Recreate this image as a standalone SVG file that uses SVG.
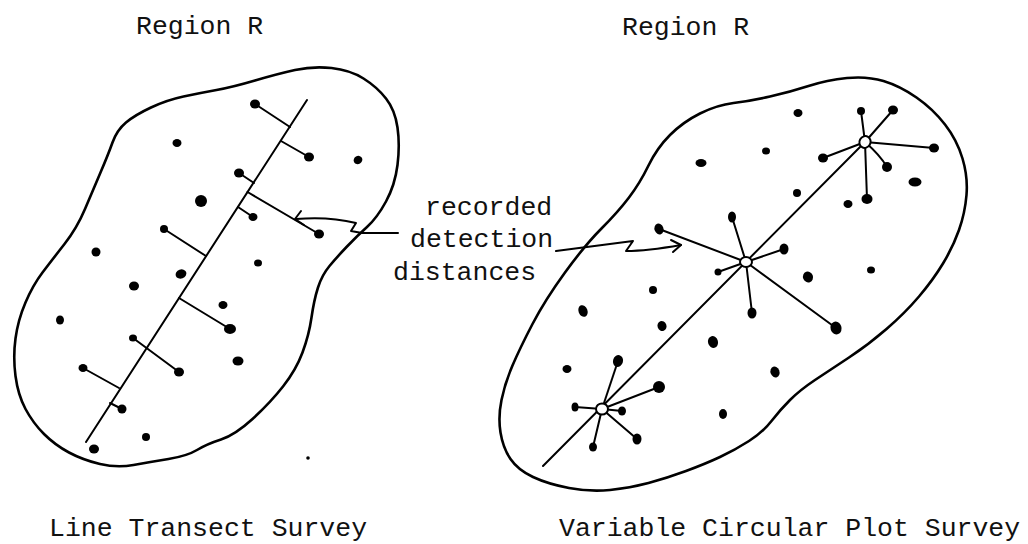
<svg xmlns="http://www.w3.org/2000/svg" width="1028" height="544" viewBox="0 0 1028 544">
<style>
  .bg{fill:#ffffff}
  .outline{fill:none;stroke:#000;stroke-width:2.6;stroke-linejoin:round;stroke-linecap:round}
  .transect{fill:none;stroke:#000;stroke-width:2;stroke-linecap:round}
  .conn{fill:none;stroke:#000;stroke-width:2;stroke-linecap:round;stroke-linejoin:round}
  .dot{fill:#000}
  .station{fill:#fff;stroke:#000;stroke-width:2}
  .lbl{font-family:"Liberation Mono","DejaVu Sans Mono",monospace;font-size:26.5px;fill:#111}
</style>
<rect class="bg" x="0" y="0" width="1028" height="544"/>

<g id="left-region">
  <path class="outline" d="M 126,122.5 Q 135,115 151,107.5 Q 167,100 183.5,96.5 Q 200,93 216.5,90 Q 233,87 255,80.5 Q 277,74 295,70 Q 313,66 331.5,68 Q 350,70 363.5,78.5 Q 377,87 386,98.5 Q 395,110 397.5,127.5 Q 400,145 397.5,165 Q 395,185 386,201.5 Q 377,218 367,227 Q 357,236 347,246.5 Q 337,257 329.5,266 Q 322,275 318,287.5 Q 314,300 311.5,317.5 Q 309,335 302.5,352.5 Q 296,370 283,386.5 Q 270,403 252.5,419 Q 235,435 221,439.5 Q 207,444 197,450 Q 187,456 168.5,459 Q 150,462 133.5,465 Q 117,468 100,464 Q 83,460 69,452.5 Q 55,445 44,434 Q 33,423 25.5,409 Q 18,395 15.5,376 Q 13,357 15.5,338.5 Q 18,320 25.5,302.5 Q 33,285 42.5,272.5 Q 52,260 64.5,244 Q 77,228 85,209 Q 93,190 100.5,172.5 Q 108,155 112.5,142.5 Q 117,130 126,122.5 Z"/>
  <line class="transect" x1="307" y1="100" x2="86" y2="442"/>
</g>

<g id="right-region">
  <path class="outline" d="M 648.5,165.5 Q 657,148 670,135 Q 683,122 700,113.5 Q 717,105 733.5,103 Q 750,101 770,96.5 Q 790,92 808.5,86 Q 827,80 847,78 Q 867,76 883.5,81 Q 900,86 916.5,97.5 Q 933,109 945,124.5 Q 957,140 962.5,158.5 Q 968,177 966.5,195 Q 965,213 959,230 Q 953,247 943,263.5 Q 933,280 919,296.5 Q 905,313 886.5,329 Q 868,345 849,357.5 Q 830,370 815,380 Q 800,390 790,400 Q 780,410 771.5,421 Q 763,432 749,441 Q 735,450 720,457 Q 705,464 686,471 Q 667,478 648.5,483 Q 630,488 610,490 Q 590,492 569,488 Q 548,484 533,477 Q 518,470 510.5,459 Q 503,448 500.5,432.5 Q 498,417 501.5,400 Q 505,383 512.5,365.5 Q 520,348 532.5,324 Q 545,300 565,272.5 Q 585,245 601.5,228.5 Q 618,212 629,197.5 Q 640,183 648.5,165.5 Z"/>
  <line class="transect" x1="543" y1="466" x2="865" y2="142"/>
</g>

<g id="connectors">
  <!-- line transect perpendicular distances -->
  <line class="conn" x1="255" y1="104" x2="290" y2="127"/>
  <line class="conn" x1="309" y1="157" x2="281" y2="141"/>
  <line class="conn" x1="239" y1="173" x2="254" y2="183"/>
  <line class="conn" x1="253" y1="217" x2="238" y2="207"/>
  <line class="conn" x1="319" y1="234" x2="247.5" y2="192"/>
  <line class="conn" x1="164" y1="229" x2="206" y2="256"/>
  <line class="conn" x1="230" y1="329" x2="179" y2="298"/>
  <line class="conn" x1="133" y1="338" x2="179" y2="372"/>
  <line class="conn" x1="83" y1="368" x2="119" y2="388"/>
  <line class="conn" x1="122" y1="409" x2="110" y2="403"/>
  <!-- circular plot radial distances: top station -->
  <line class="conn" x1="865" y1="142" x2="861" y2="111"/>
  <line class="conn" x1="865" y1="142" x2="893" y2="110"/>
  <line class="conn" x1="865" y1="142" x2="934" y2="148"/>
  <line class="conn" x1="865" y1="142" x2="823" y2="158"/>
  <path class="conn" d="M 865,142 Q 880,155 887,167"/>
  <line class="conn" x1="865" y1="142" x2="867" y2="199"/>
  <!-- middle station -->
  <line class="conn" x1="746" y1="262" x2="659" y2="229"/>
  <line class="conn" x1="746" y1="262" x2="732" y2="217"/>
  <line class="conn" x1="746" y1="262" x2="784" y2="249"/>
  <line class="conn" x1="746" y1="262" x2="718" y2="272"/>
  <line class="conn" x1="746" y1="262" x2="752" y2="313"/>
  <line class="conn" x1="746" y1="262" x2="836" y2="328"/>
  <!-- bottom station -->
  <line class="conn" x1="602" y1="409" x2="618" y2="361"/>
  <line class="conn" x1="602" y1="409" x2="659" y2="387"/>
  <line class="conn" x1="602" y1="409" x2="575" y2="407"/>
  <line class="conn" x1="602" y1="409" x2="622" y2="411"/>
  <line class="conn" x1="602" y1="409" x2="637" y2="439"/>
  <line class="conn" x1="602" y1="409" x2="593" y2="447"/>
  <!-- label arrows -->
  <path class="conn" d="M 398,233 L 362,233 L 351,231 L 356,223 C 340,219 318,217 296,219"/>
  <path class="conn" d="M 301,211 L 295,219 L 304,225"/>
  <path class="conn" d="M 556,251 L 633,241 L 626,251 C 645,251 664,248 681,245"/>
  <path class="conn" d="M 671,240 L 681,245 L 673,252"/>
</g>

<g id="left-dots">
  <ellipse class="dot" cx="255" cy="104" rx="5" ry="4.5"/>
  <ellipse class="dot" cx="177" cy="143" rx="4.5" ry="4"/>
  <ellipse class="dot" cx="309" cy="157" rx="5" ry="4.5"/>
  <ellipse class="dot" cx="358" cy="160" rx="4.5" ry="4" transform="rotate(-30 358 160)"/>
  <ellipse class="dot" cx="239" cy="173" rx="5" ry="4.5"/>
  <ellipse class="dot" cx="201" cy="201" rx="6" ry="6"/>
  <ellipse class="dot" cx="253" cy="217" rx="4.5" ry="4"/>
  <ellipse class="dot" cx="319" cy="234" rx="5" ry="4.5"/>
  <ellipse class="dot" cx="164" cy="229" rx="4" ry="4"/>
  <ellipse class="dot" cx="96" cy="252" rx="4.5" ry="4.5"/>
  <ellipse class="dot" cx="258" cy="263" rx="4" ry="3.5"/>
  <ellipse class="dot" cx="181" cy="274" rx="5.5" ry="4.5" transform="rotate(-20 181 274)"/>
  <ellipse class="dot" cx="134" cy="286" rx="5" ry="4.5"/>
  <ellipse class="dot" cx="223" cy="305" rx="4.5" ry="4"/>
  <ellipse class="dot" cx="60" cy="320" rx="4" ry="4.5"/>
  <ellipse class="dot" cx="230" cy="329" rx="6" ry="5"/>
  <ellipse class="dot" cx="133" cy="338" rx="4" ry="3.5"/>
  <ellipse class="dot" cx="179" cy="372" rx="5" ry="4.5"/>
  <ellipse class="dot" cx="238" cy="361" rx="5.5" ry="4.5"/>
  <ellipse class="dot" cx="83" cy="368" rx="4.5" ry="4"/>
  <ellipse class="dot" cx="122" cy="409" rx="4.5" ry="4.5"/>
  <ellipse class="dot" cx="146" cy="437" rx="4" ry="4"/>
  <ellipse class="dot" cx="94" cy="449" rx="5" ry="4.5"/>
  <circle class="dot" cx="308" cy="458" r="1.8"/>
</g>

<g id="right-stations">
  <ellipse class="station" cx="865" cy="142" rx="5.5" ry="6" transform="rotate(30 865 142)"/>
  <ellipse class="station" cx="746" cy="262" rx="6" ry="5"/>
  <ellipse class="station" cx="602" cy="409" rx="6" ry="5.5"/>
</g>

<g id="right-dots">
  <ellipse class="dot" cx="861" cy="111" rx="4" ry="4"/>
  <ellipse class="dot" cx="893" cy="110" rx="5" ry="4.5"/>
  <ellipse class="dot" cx="934" cy="148" rx="5" ry="4.5"/>
  <ellipse class="dot" cx="823" cy="158" rx="5" ry="4.5"/>
  <ellipse class="dot" cx="887" cy="167" rx="5" ry="5"/>
  <ellipse class="dot" cx="867" cy="199" rx="5.5" ry="5"/>
  <ellipse class="dot" cx="659" cy="229" rx="4.5" ry="5.5" transform="rotate(-20 659 229)"/>
  <ellipse class="dot" cx="732" cy="217" rx="4" ry="5.5"/>
  <ellipse class="dot" cx="784" cy="249" rx="4.5" ry="5.5"/>
  <ellipse class="dot" cx="718" cy="272" rx="3.5" ry="3.5" fill="#333"/>
  <ellipse class="dot" cx="752" cy="313" rx="4.5" ry="5.5"/>
  <ellipse class="dot" cx="836" cy="328" rx="5.5" ry="6.5" transform="rotate(-20 836 328)"/>
  <ellipse class="dot" cx="618" cy="361" rx="5" ry="6" transform="rotate(15 618 361)"/>
  <ellipse class="dot" cx="659" cy="387" rx="6" ry="6"/>
  <ellipse class="dot" cx="575" cy="407" rx="3.5" ry="4.5"/>
  <ellipse class="dot" cx="622" cy="411" rx="4" ry="4.5"/>
  <ellipse class="dot" cx="637" cy="439" rx="4.5" ry="5.5"/>
  <ellipse class="dot" cx="593" cy="447" rx="4" ry="4.5"/>
  <ellipse class="dot" cx="798" cy="113" rx="4.5" ry="4"/>
  <ellipse class="dot" cx="766" cy="151" rx="4" ry="3.5"/>
  <ellipse class="dot" cx="701" cy="163" rx="5.5" ry="4"/>
  <ellipse class="dot" cx="797" cy="193" rx="4" ry="4"/>
  <ellipse class="dot" cx="848" cy="204" rx="4.5" ry="4"/>
  <ellipse class="dot" cx="915" cy="182" rx="6.5" ry="4.5"/>
  <ellipse class="dot" cx="871" cy="270" rx="4" ry="3.5"/>
  <ellipse class="dot" cx="808" cy="277" rx="5" ry="5.5" transform="rotate(-20 808 277)"/>
  <ellipse class="dot" cx="653" cy="290" rx="4" ry="4"/>
  <ellipse class="dot" cx="583" cy="311" rx="4.5" ry="6" transform="rotate(-20 583 311)"/>
  <ellipse class="dot" cx="662" cy="326" rx="4.5" ry="5" transform="rotate(-20 662 326)"/>
  <ellipse class="dot" cx="713" cy="342" rx="5" ry="6" transform="rotate(-15 713 342)"/>
  <ellipse class="dot" cx="567" cy="369" rx="4.5" ry="4"/>
  <ellipse class="dot" cx="775" cy="372" rx="4.5" ry="5.5" transform="rotate(-20 775 372)"/>
  <ellipse class="dot" cx="723" cy="414" rx="4" ry="5"/>
</g>

<g id="labels">
  <text class="lbl" x="136" y="34">Region R</text>
  <text class="lbl" x="622" y="35">Region R</text>
  <text class="lbl" x="425" y="215">recorded</text>
  <text class="lbl" x="410" y="247">detection</text>
  <text class="lbl" x="393" y="280">distances</text>
  <text class="lbl" x="49" y="536">Line Transect Survey</text>
  <text class="lbl" x="559" y="536">Variable Circular Plot Survey</text>
</g>
</svg>
